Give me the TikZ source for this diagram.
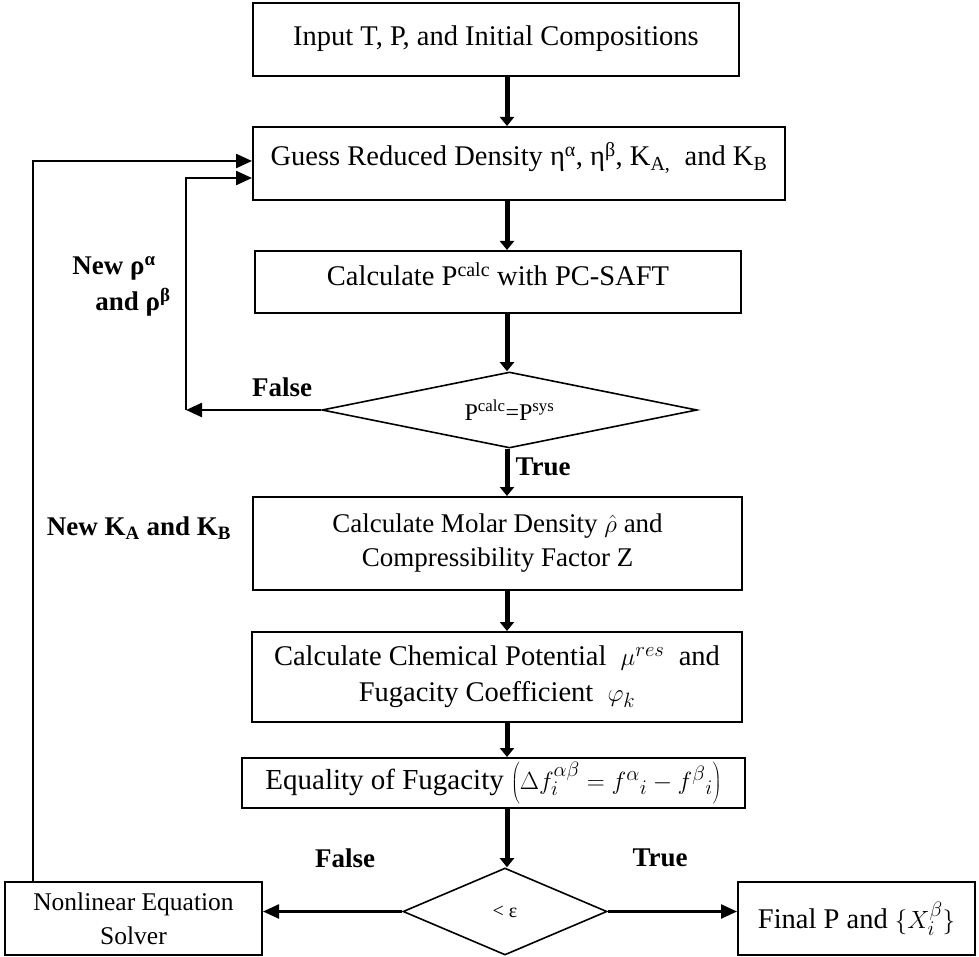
\documentclass[tikz,border=0pt]{standalone}
\usepackage{fontspec}
\setmainfont{Liberation Serif}
\usetikzlibrary{shapes.geometric,arrows.meta}
\tikzset{
  box/.style={draw, line width=2pt, rectangle, inner sep=2pt, font=\fontsize{28.5}{36}\selectfont},
  dia/.style={draw, line width=1.6pt, diamond, inner sep=0pt, align=center},
  vArrow/.style={line width=5pt, -{Triangle[width=14pt,length=9pt]}},
  hArrow/.style={line width=2.4pt, -{Triangle[width=14pt,length=16pt]}},
  lbl/.style={font=\fontsize{27}{32}\selectfont\bfseries, inner sep=0pt},
}
\begin{document}
\begin{tikzpicture}[x=1pt,y=-1pt]
\useasboundingbox (0,0) rectangle (979,957);
% axis and loop corners
\coordinate (ax) at (507,0);
\coordinate (ox) at (33,161);
\coordinate (ix) at (186,178);

\node[box, minimum width=486pt, minimum height=73pt, text height=20pt, text depth=7pt] (b1) at (496,39.5) {Input T, P, and Initial Compositions};
\node[box, minimum width=532pt, minimum height=73pt, text height=20pt, text depth=15pt] (b2) at (519,163.5) {Guess Reduced Density η\textsuperscript{α}, η\textsuperscript{β}, K\textsubscript{A,}~ and K\textsubscript{B}};
\node[box, minimum width=486pt, minimum height=62pt, text height=20pt, text depth=12pt] (b3) at (498,282) {Calculate P\textsuperscript{calc} with PC-SAFT};
\node[dia, minimum width=375pt, minimum height=76pt, aspect=4.9] (d1) at (509.5,410) {\fontsize{24}{28}\selectfont P\textsuperscript{calc}=P\textsuperscript{sys}};
\node[box, align=center, font=\fontsize{27}{34}\selectfont, minimum width=489pt, minimum height=93pt] (b4) at (497.5,543.5) {Calculate Molar Density $\hat{\rho}$ and\\Compressibility Factor Z};
\node[box, align=center, minimum width=490pt, minimum height=90pt] (b5) at (497,677) {Calculate Chemical Potential~ $\mu^{res}$~ and\\Fugacity Coefficient~ $\varphi_{k}$};
\node[box, font=\fontsize{29}{36}\selectfont, minimum width=503pt, minimum height=50pt] (b6) at (493.5,783) {Equality of Fugacity $\left(\Delta f_i^{\alpha\beta} = f^{\alpha}{}_{i} - f^{\beta}{}_{i}\right)$};
\node[dia, minimum width=204pt, minimum height=87pt, aspect=2.3] (d2) at (505,911.5) {\fontsize{20}{24}\selectfont < ε};
\node[box, align=center, font=\fontsize{25.5}{34}\selectfont, minimum width=257pt, minimum height=73pt] (b7) at (133.5,918.5) {Nonlinear Equation\\Solver};
\node[box, minimum width=237pt, minimum height=73pt] (b8) at (856.5,918.5) {Final P and $\{X_i^{\beta}\}$};

% main vertical arrows
\draw[vArrow] (b1.south -| ax) -- (b2.north -| ax);
\draw[vArrow] (b2.south -| ax) -- (b3.north -| ax);
\draw[vArrow] (b3.south -| ax) -- (d1.north -| ax);
\draw[vArrow] (d1.south -| ax) -- (b4.north -| ax);
\draw[vArrow] (b4.south -| ax) -- (b5.north -| ax);
\draw[vArrow] (b5.south -| ax) -- (b6.north -| ax);
\draw[vArrow] (b6.south -| ax) -- (d2.north -| ax);

% inner loop (False of first test)
\draw[hArrow] (d1.west) -- (ix |- d1.west);
\draw[hArrow] (ix |- d1.west) -- (ix) -- (ix -| b2.west);

% outer loop
\draw[hArrow] (b7.north -| ox) -- (ox) -- (ox -| b2.west);

% bottom decision
\draw[hArrow] (d2.west) -- (b7.east |- d2.west);
\draw[hArrow] (d2.east) -- (b8.west |- d2.east);

% labels
\node[lbl] (lf1) at (282,387) {False};
\node[lbl] (lt1) at (543,467) {True};
\node[lbl] (lna) at (114,268) {New ρ\textsuperscript{α}};
\node[lbl] (lnb) at (133,302) {and ρ\textsuperscript{β}};
\node[lbl] (lnk) at (139,528) {New K\textsubscript{A} and K\textsubscript{B}};
\node[lbl] (lf2) at (345,858) {False};
\node[lbl] (lt2) at (660,858) {True};
\end{tikzpicture}
\end{document}
